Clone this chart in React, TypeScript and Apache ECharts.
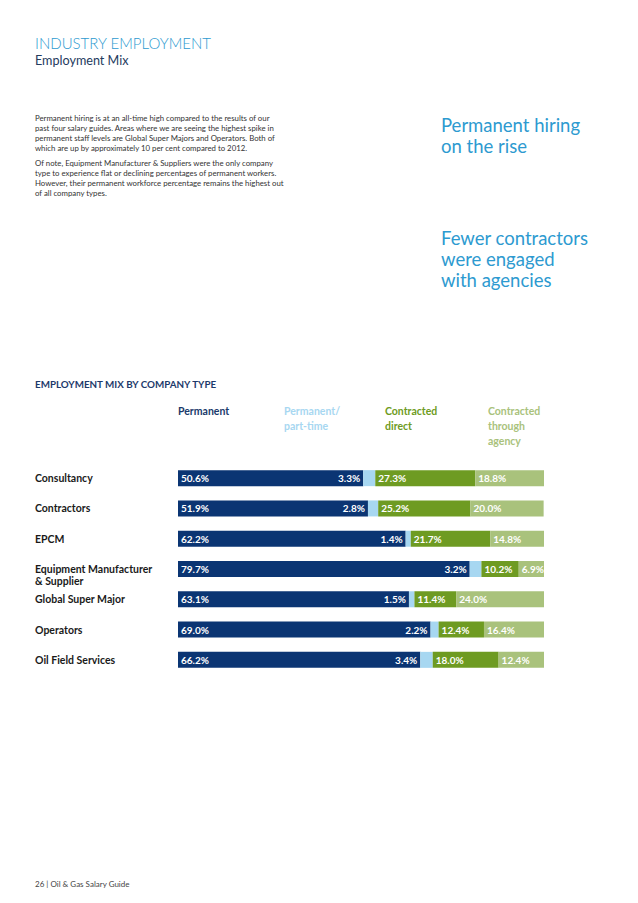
import React, { useEffect, useRef } from "react";
import * as echarts from "echarts";

const categories = [
  "Consultancy",
  "Contractors",
  "EPCM",
  "Equipment Manufacturer\n& Supplier",
  "Global Super Major",
  "Operators",
  "Oil Field Services",
];
const permanent = [50.6, 51.9, 62.2, 79.7, 63.1, 69.0, 66.2];
const partTime = [3.3, 2.8, 1.4, 3.2, 1.5, 2.2, 3.4];
const contractedDirect = [27.3, 25.2, 21.7, 10.2, 11.4, 12.4, 18.0];
const contractedAgency = [18.8, 20.0, 14.8, 6.9, 24.0, 16.4, 12.4];

const seriesNames = ["Permanent", "Permanent/\npart-time", "Contracted\ndirect", "Contracted\nthrough\nagency"];
const colors = ["#0b3573", "#a7d7f1", "#6e9b22", "#a9c27c"];
const headerColors = ["#1a3a6b", "#a7d7f1", "#6e9b22", "#a9c27c"];

const paragraph1 = [
  "Permanent hiring is at an all-time high compared to the results of our",
  "past four salary guides. Areas where we are seeing the highest spike in",
  "permanent staff levels are Global Super Majors and Operators. Both of",
  "which are up by approximately 10 per cent compared to 2012.",
];
const paragraph2 = [
  "Of note, Equipment Manufacturer & Suppliers were the only company",
  "type to experience flat or declining percentages of permanent workers.",
  "However, their permanent workforce percentage remains the highest out",
  "of all company types.",
];

const FONT = "Lato, 'Open Sans', sans-serif";

export default function App() {
  const ref = useRef<HTMLDivElement>(null);
  useEffect(() => {
    if (!ref.current) return;
    const chart = echarts.init(ref.current, undefined, { renderer: "svg" });
    const fmt = (p: any) => `${Number(p.value).toFixed(1)}%`;
    const labelBase = {
      show: true,
      color: "#ffffff",
      fontFamily: FONT,
      fontWeight: "bold" as const,
      fontSize: 10,
      formatter: fmt,
    };
    const dataSets = [permanent, partTime, contractedDirect, contractedAgency];
    const series = dataSets.map((d, i) => ({
      type: "bar",
      name: seriesNames[i],
      stack: "total",
      data: d,
      barWidth: 16,
      itemStyle: { color: colors[i] },
      label:
        i === 1
          ? { ...labelBase, position: "left", distance: 3 }
          : { ...labelBase, position: "insideLeft", distance: 3 },
    }));

    const graphics: any[] = [
      {
        type: "text",
        left: 35,
        top: 35,
        style: { text: "INDUSTRY EMPLOYMENT", fill: "#2d9ad0", font: `300 15px ${FONT}` },
      },
      {
        type: "text",
        left: 35,
        top: 54,
        style: { text: "Employment Mix", fill: "#243b5e", font: `400 12.6px ${FONT}` },
      },
      {
        type: "text",
        left: 35,
        top: 113,
        style: { text: paragraph1.join("\n"), fill: "#333333", font: `400 7.8px ${FONT}`, lineHeight: 10 },
      },
      {
        type: "text",
        left: 35,
        top: 158,
        style: { text: paragraph2.join("\n"), fill: "#333333", font: `400 7.8px ${FONT}`, lineHeight: 10 },
      },
      {
        type: "text",
        left: 441,
        top: 114,
        style: { text: "Permanent hiring\non the rise", fill: "#2d9ad0", font: `400 18.5px ${FONT}`, lineHeight: 21 },
      },
      {
        type: "text",
        left: 441,
        top: 227,
        style: {
          text: "Fewer contractors\nwere engaged\nwith agencies",
          fill: "#2d9ad0",
          font: `400 18.5px ${FONT}`,
          lineHeight: 21,
        },
      },
      {
        type: "text",
        left: 35,
        top: 379,
        style: { text: "EMPLOYMENT MIX BY COMPANY TYPE", fill: "#1d3a6b", font: `bold 9.8px ${FONT}` },
      },
      {
        type: "text",
        left: 35,
        top: 880,
        style: { text: "26 | Oil & Gas Salary Guide", fill: "#444444", font: `400 8px ${FONT}` },
      },
    ];
    const headerX = [178, 284, 385, 488];
    seriesNames.forEach((n, i) => {
      graphics.push({
        type: "text",
        left: headerX[i],
        top: 403,
        style: { text: n, fill: headerColors[i], font: `bold 10.5px ${FONT}`, lineHeight: 15 },
      });
    });

    chart.setOption({
      animation: false,
      backgroundColor: "#ffffff",
      grid: { left: 178, right: 94, top: 463, height: 212, containLabel: false },
      xAxis: { type: "value", min: 0, max: 100, show: false },
      yAxis: {
        type: "category",
        data: categories,
        inverse: true,
        axisLine: { show: false },
        axisTick: { show: false },
        splitLine: { show: false },
        axisLabel: {
          align: "left",
          margin: 143,
          verticalAlign: "top",
          padding: [-6, 0, 0, 0],
          lineHeight: 12,
          color: "#1a1a1a",
          fontFamily: FONT,
          fontWeight: "bold",
          fontSize: 10.5,
        },
      },
      series,
      graphic: graphics,
    });
    return () => chart.dispose();
  }, []);
  return (
    <div
      ref={ref}
      style={{ position: "absolute", left: 0, top: 0, width: 638, height: 903, background: "#fff" }}
    />
  );
}
